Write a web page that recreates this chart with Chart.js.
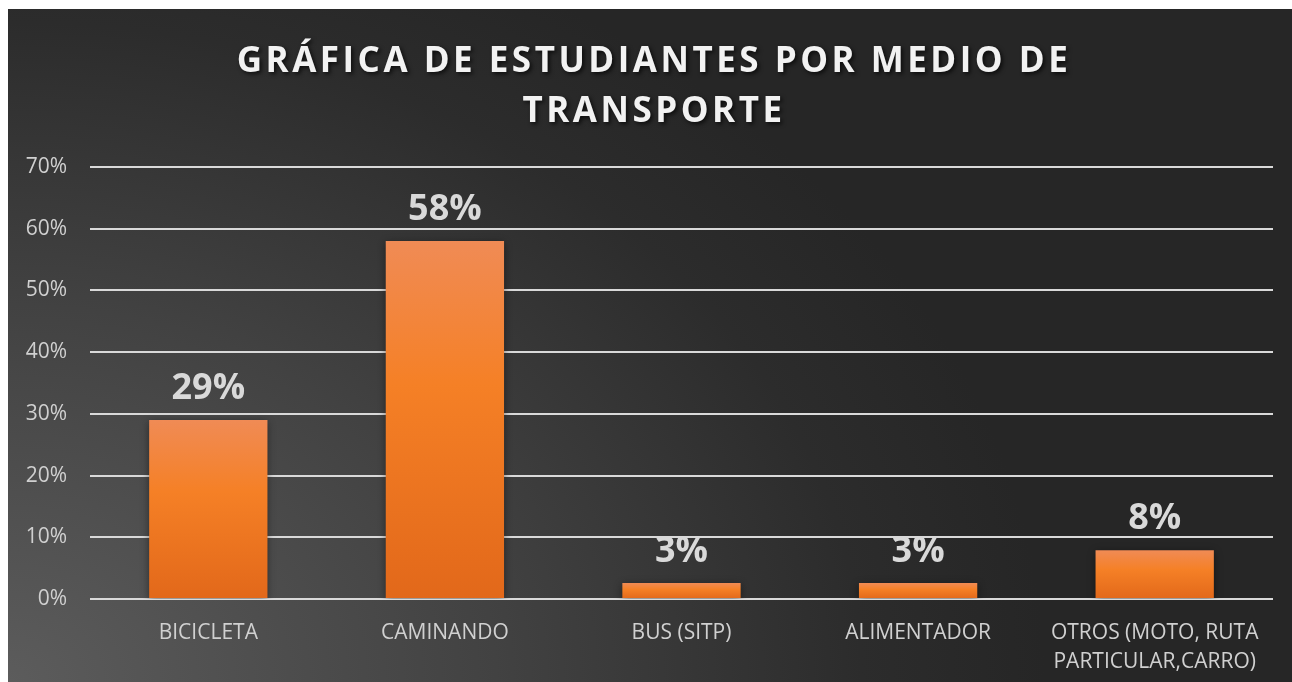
<!DOCTYPE html>
<html>
<head>
<meta charset="utf-8">
<script src="https://cdn.jsdelivr.net/npm/chart.js@4/dist/chart.umd.min.js"></script>
<style>
  html, body { margin: 0; padding: 0; background: #fff; }
  #panel {
    position: absolute; left: 8px; top: 9px; width: 1284px; height: 673px;
    background: radial-gradient(ellipse 95% 140% at 0% 100%, #5c5c5c 0%, #424242 40%, #2c2c2c 70%, #262626 85%);
  }
</style>
</head>
<body>
<div id="panel"><canvas id="myChart"></canvas></div>
<script>
// datos
const categorias = ['BICICLETA', 'CAMINANDO', 'BUS (SITP)', 'ALIMENTADOR', ['OTROS (MOTO, RUTA', 'PARTICULAR,CARRO)']];
const porcentajes = [29, 58, 2.6, 2.6, 7.9];
const tituloLineas = ['GRÁFICA DE ESTUDIANTES POR MEDIO DE', 'TRANSPORTE'];

//degradado naranja de cada barra
const barGradient = (context) => {
    const chart = context.chart;
    const {ctx, scales} = chart;
    if (!scales.y || context.parsed === undefined) return '#f47f2a';
    const top = scales.y.getPixelForValue(context.parsed.y);
    const bottom = scales.y.getPixelForValue(0);
    if (!isFinite(top) || top === bottom) return '#f47f2a';
    const g = ctx.createLinearGradient(0, top, 0, bottom);
    g.addColorStop(0, '#f08b55');
    g.addColorStop(0.4, '#f58026');
    g.addColorStop(1, '#e2681a');
    return g;
}

//titulo con espaciado de letras y sombra
const tituloPlugin = {
    id: 'tituloPlugin',
    afterDraw(chart) {
        const ctx = chart.ctx;
        ctx.save();
        ctx.font = 'bold 35px "Open Sans"';
        ctx.letterSpacing = '3.5px';
        ctx.fillStyle = '#f2f2f2';
        ctx.textAlign = 'center';
        ctx.textBaseline = 'alphabetic';
        ctx.shadowColor = 'rgba(0,0,0,0.7)';
        ctx.shadowBlur = 4;
        ctx.shadowOffsetX = 2;
        ctx.shadowOffsetY = 2;
        tituloLineas.forEach((linea, i) => {
            ctx.fillText(linea, chart.width / 2 + 4, 63 + i * 50);
        });
        ctx.restore();
    }
}

//sombra de barras y etiquetas de datos
const etiquetasPlugin = {
    id: 'etiquetasPlugin',
    beforeDatasetsDraw(chart) {
        const ctx = chart.ctx;
        ctx.save();
        ctx.shadowColor = 'rgba(0,0,0,0.45)';
        ctx.shadowBlur = 8;
        ctx.shadowOffsetX = 0;
        ctx.shadowOffsetY = 2;
    },
    afterDatasetsDraw(chart) {
        const ctx = chart.ctx;
        ctx.restore();
        ctx.save();
        ctx.font = 'bold 36px "Open Sans"';
        ctx.fillStyle = '#d9d9d9';
        ctx.textAlign = 'center';
        ctx.textBaseline = 'alphabetic';
        const meta = chart.getDatasetMeta(0);
        meta.data.forEach((bar, i) => {
            ctx.fillText(Math.round(porcentajes[i]) + '%', bar.x, bar.y - 21);
        });
        ctx.restore();
    }
}

const ctx = document.getElementById('myChart').getContext('2d');
window.myBarChart = new Chart(ctx, {
    type: 'bar',
    data: {
        labels: categorias,
        datasets: [{
            label: 'Estudiantes',
            data: porcentajes,
            backgroundColor: barGradient,
            borderWidth: 0,
            categoryPercentage: 1,
            barPercentage: 0.5
        }]
    },
    options: {
        responsive: true,
        maintainAspectRatio: false,
        animation: false,
        layout: {
            padding: { top: 158, left: 0, right: 19, bottom: 0 }
        },
        plugins: {
            legend: { display: false },
            tooltip: { enabled: false },
            title: { display: false }
        },
        scales: {
            y: {
                min: 0,
                max: 70,
                afterFit: (scale) => { scale.width = 82; },
                ticks: {
                    stepSize: 10,
                    padding: 23,
                    color: '#d0d0d0',
                    font: { family: '"Open Sans"', size: 21 },
                    callback: (v) => v + '%'
                },
                grid: { color: '#d9d9d9', lineWidth: 2, drawTicks: false },
                border: { display: false }
            },
            x: {
                afterFit: (scale) => { scale.height = 83; },
                ticks: {
                    color: '#d0d0d0',
                    padding: 20,
                    maxRotation: 0,
                    font: { family: '"Open Sans"', size: 21, lineHeight: 1.35 }
                },
                grid: { display: false, drawTicks: false },
                border: { display: false }
            }
        }
    },
    plugins: [tituloPlugin, etiquetasPlugin]
});
</script>
</body>
</html>
